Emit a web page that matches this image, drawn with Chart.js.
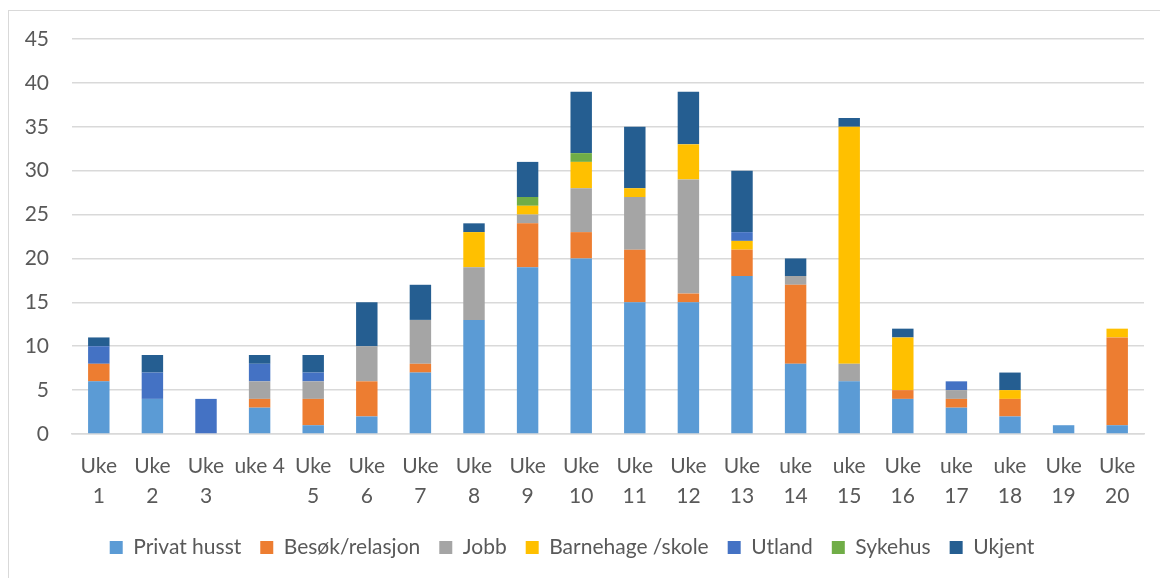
<!DOCTYPE html>
<html>
<head>
<meta charset="utf-8">
<script src="https://cdn.jsdelivr.net/npm/chart.js@4"></script>
<style>
  html, body { margin: 0; padding: 0; background: #fff; }
  #wrap { position: relative; width: 1160px; height: 578px; }
  #frame { position: absolute; left: 8px; top: 10px; right: -2px; bottom: -2px; border: 1px solid #d9d9d9; }
  canvas { position: absolute; left: 0; top: 0; }
</style>
</head>
<body>
<div id="wrap">
  <div id="frame"></div>
  <canvas id="myChart" width="1160" height="578"></canvas>
</div>
<script>
const weeks = [
  ["Uke", "1"], ["Uke", "2"], ["Uke", "3"], "uke 4", ["Uke", "5"],
  ["Uke", "6"], ["Uke", "7"], ["Uke", "8"], ["Uke", "9"], ["Uke", "10"],
  ["Uke", "11"], ["Uke", "12"], ["Uke", "13"], ["uke", "14"], ["uke", "15"],
  ["Uke", "16"], ["uke", "17"], ["uke", "18"], ["Uke", "19"], ["Uke", "20"]
];

const privatHusst  = [6, 4, 0, 3, 1, 2, 7, 13, 19, 20, 15, 15, 18, 8, 6, 4, 3, 2, 1, 1];
const besokRelasjon = [2, 0, 0, 1, 3, 4, 1, 0, 5, 3, 6, 1, 3, 9, 0, 1, 1, 2, 0, 10];
const jobb         = [0, 0, 0, 2, 2, 4, 5, 6, 1, 5, 6, 13, 0, 1, 2, 0, 1, 0, 0, 0];
const barnehage    = [0, 0, 0, 0, 0, 0, 0, 4, 1, 3, 1, 4, 1, 0, 27, 6, 0, 1, 0, 1];
const utland       = [2, 3, 4, 2, 1, 0, 0, 0, 0, 0, 0, 0, 1, 0, 0, 0, 1, 0, 0, 0];
const sykehus      = [0, 0, 0, 0, 0, 0, 0, 0, 1, 1, 0, 0, 0, 0, 0, 0, 0, 0, 0, 0];
const ukjent       = [1, 2, 0, 1, 2, 5, 4, 1, 4, 7, 7, 6, 7, 2, 1, 1, 0, 2, 0, 0];

const yTicks = [0, 5, 10, 15, 20, 25, 30, 35, 40, 45];

const textColor = "#595959";
const fontFamily = "Lato, 'Open Sans', sans-serif";

function series(label, values, color) {
  return {
    label: label,
    data: values,
    backgroundColor: color,
    borderWidth: 0,
    barPercentage: 0.4,
    categoryPercentage: 1.0
  };
}

const ctx = document.getElementById("myChart");

new Chart(ctx, {
  type: "bar",
  data: {
    labels: weeks,
    datasets: [
      series("Privat husst", privatHusst, "#5B9BD5"),
      series("Besøk/relasjon", besokRelasjon, "#ED7D31"),
      series("Jobb", jobb, "#A5A5A5"),
      series("Barnehage /skole", barnehage, "#FFC000"),
      series("Utland", utland, "#4472C4"),
      series("Sykehus", sykehus, "#70AD47"),
      series("Ukjent", ukjent, "#255E91")
    ]
  },
  options: {
    responsive: false,
    animation: false,
    layout: { padding: { left: 0, right: 16, top: 39, bottom: 10 } },
    plugins: {
      tooltip: { enabled: false },
      legend: {
        position: "bottom",
        labels: {
          color: textColor,
          font: { family: fontFamily, size: 21 },
          boxWidth: 13,
          boxHeight: 13,
          padding: 19
        }
      }
    },
    scales: {
      x: {
        stacked: true,
        grid: { display: false, drawTicks: false },
        border: { display: true, color: "#d9d9d9", width: 1.5 },
        ticks: {
          color: textColor,
          font: { family: fontFamily, size: 21, lineHeight: 1.43 },
          padding: 17,
          maxRotation: 0,
          autoSkip: false
        },
        afterFit: function (scale) { scale.height = 84; }
      },
      y: {
        stacked: true,
        min: 0,
        max: 45,
        afterBuildTicks: function (scale) {
          scale.ticks = yTicks.map(function (v) { return { value: v }; });
        },
        grid: { color: "#d9d9d9", lineWidth: 1.5, drawTicks: false },
        border: { display: false },
        ticks: {
          color: textColor,
          font: { family: fontFamily, size: 21 },
          padding: 23
        },
        afterFit: function (scale) { scale.width = 72; }
      }
    }
  }
});
</script>
</body>
</html>
